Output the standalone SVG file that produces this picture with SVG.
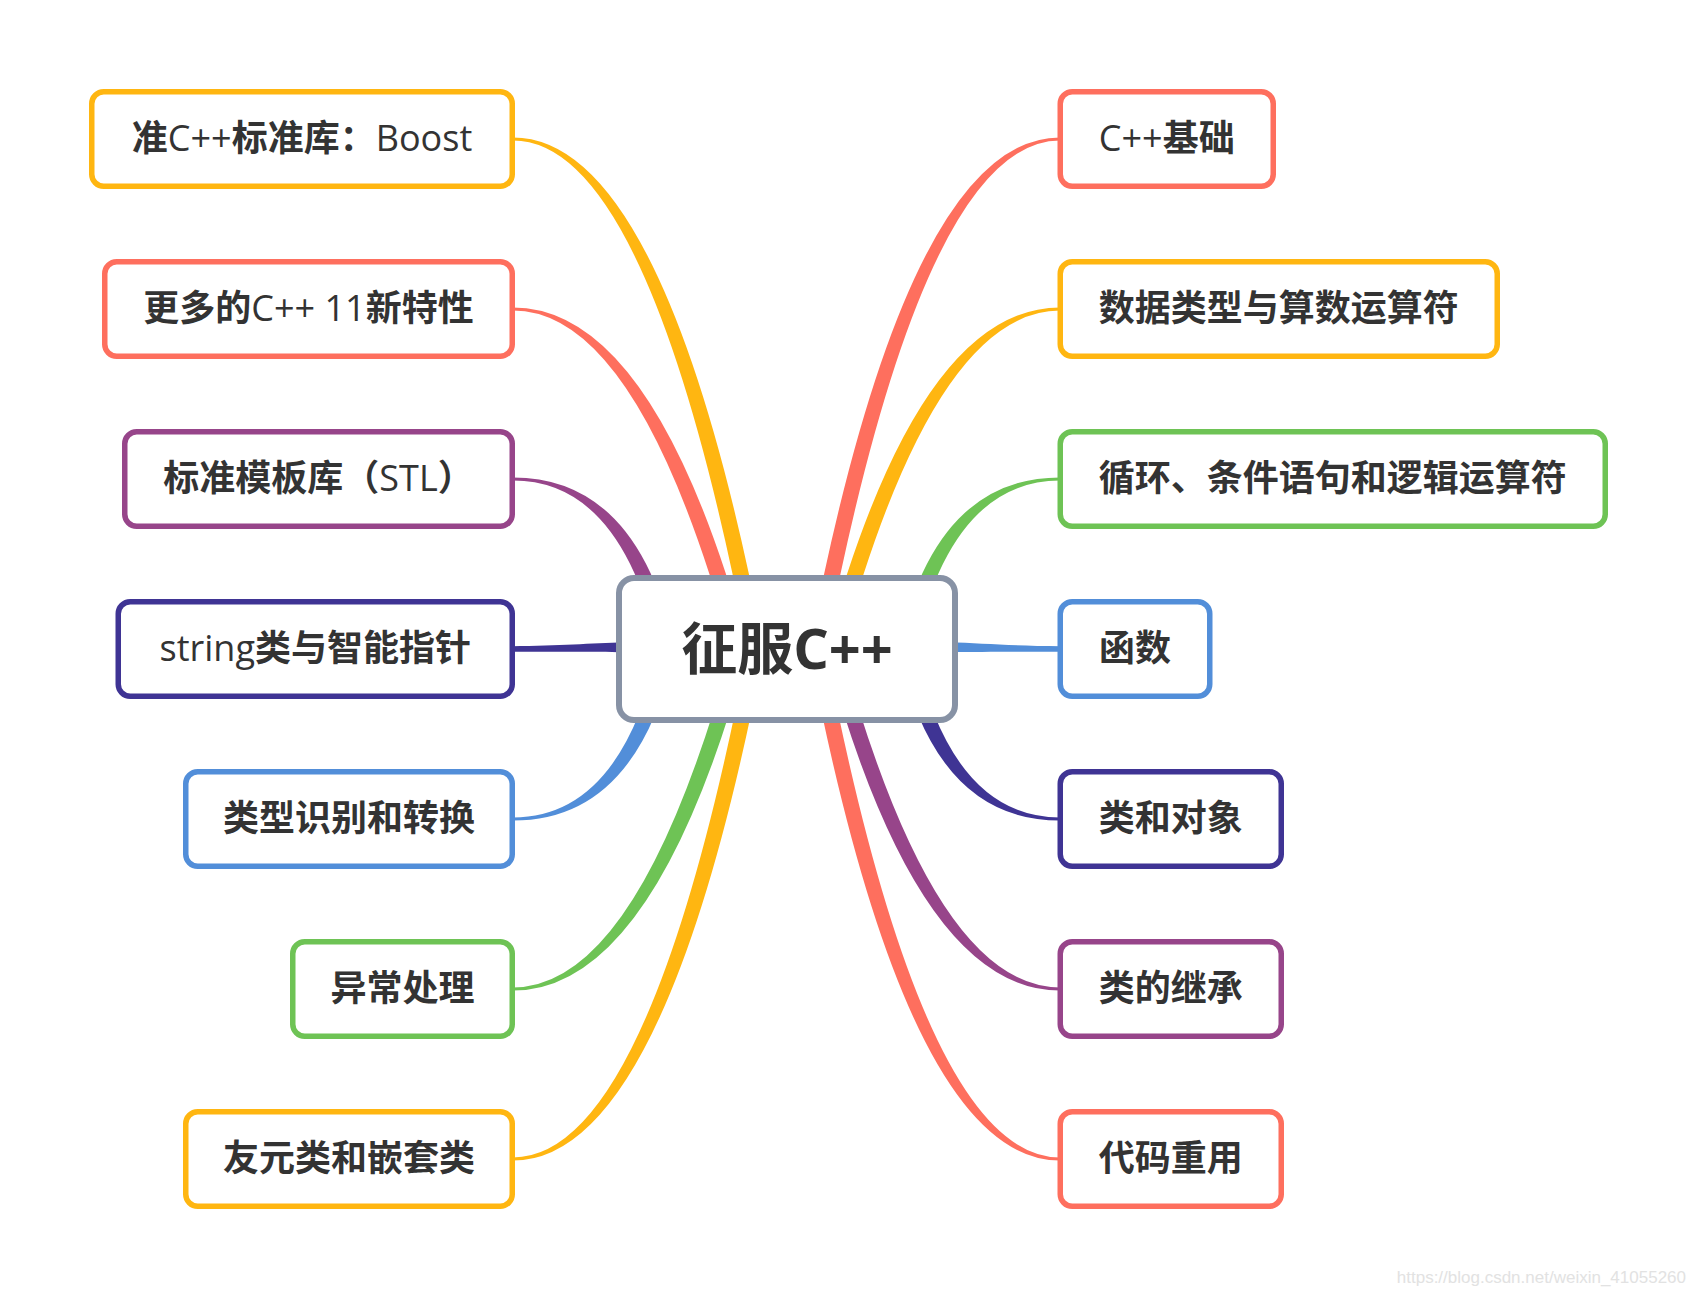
<svg xmlns="http://www.w3.org/2000/svg" width="1695" height="1295" viewBox="0 0 1695 1295">
<style>
.box{fill:#ffffff;stroke-width:5.5}
.t{font-family:"Noto Sans CJK SC","Noto Sans",sans-serif;font-weight:700;font-size:36px;fill:#333333;text-anchor:middle}
.lat{font-family:"Open Sans","Noto Sans",sans-serif;font-weight:500}
.yel{stroke:#FFB611}.red{stroke:#FE6F5E}.pur{stroke:#97458A}.ind{stroke:#3F3494}.blu{stroke:#528ED9}.grn{stroke:#6EC355}
.fy{fill:#FFB611}.fr{fill:#FE6F5E}.fp{fill:#97458A}.fi{fill:#3F3494}.fb{fill:#528ED9}.fg{fill:#6EC355}
</style>
<rect x="0" y="0" width="1695" height="1295" fill="#ffffff"/>
<g id="connectors">
  <!-- top-left -->
  <path class="fy" d="M513,137.4 Q665.8,137.4 763.9,647.5 L748.1,650.5 Q650.1,140.6 513,140.6 Z"/>
  <path class="fr" d="M513,307.4 Q654.9,307.4 747.7,646.9 L732.3,651.1 Q639.2,310.6 513,310.6 Z"/>
  <path class="fp" d="M513,477.4 Q636.9,477.4 674.8,647.3 L659.2,650.7 Q621.2,480.6 513,480.6 Z"/>
  <path class="fi" d="M512,646.2 C560,646 590,643.3 625,642.3 L625,652.3 C590,651.8 560,651.8 512,651.8 Z"/>
  <!-- bottom-left -->
  <g transform="matrix(1 0 0 -1 0 1298)">
    <path class="fb" d="M513,477.4 Q636.9,477.4 674.8,647.3 L659.2,650.7 Q621.2,480.6 513,480.6 Z"/>
    <path class="fg" d="M513,307.4 Q654.9,307.4 747.7,646.9 L732.3,651.1 Q639.2,310.6 513,310.6 Z"/>
    <path class="fy" d="M513,137.4 Q665.8,137.4 763.9,647.5 L748.1,650.5 Q650.1,140.6 513,140.6 Z"/>
  </g>
  <!-- top-right -->
  <g transform="matrix(-1 0 0 1 1573 0)">
    <path class="fr" d="M513,137.4 Q665.8,137.4 763.9,647.5 L748.1,650.5 Q650.1,140.6 513,140.6 Z"/>
    <path class="fy" d="M513,307.4 Q654.9,307.4 747.7,646.9 L732.3,651.1 Q639.2,310.6 513,310.6 Z"/>
    <path class="fg" d="M513,477.4 Q636.9,477.4 674.8,647.3 L659.2,650.7 Q621.2,480.6 513,480.6 Z"/>
    <path class="fb" d="M512,646.2 C560,646 590,643.3 625,642.3 L625,652.3 C590,651.8 560,651.8 512,651.8 Z"/>
  </g>
  <!-- bottom-right -->
  <g transform="matrix(-1 0 0 -1 1573 1298)">
    <path class="fi" d="M513,477.4 Q636.9,477.4 674.8,647.3 L659.2,650.7 Q621.2,480.6 513,480.6 Z"/>
    <path class="fp" d="M513,307.4 Q654.9,307.4 747.7,646.9 L732.3,651.1 Q639.2,310.6 513,310.6 Z"/>
    <path class="fr" d="M513,137.4 Q665.8,137.4 763.9,647.5 L748.1,650.5 Q650.1,140.6 513,140.6 Z"/>
  </g>
</g>

<g id="center">
  <rect x="619" y="578" width="336" height="142" rx="15" fill="#ffffff" stroke="#8792A5" stroke-width="6"/>
  <text x="787" y="669" class="t" style="font-size:56px">征服<tspan style="font-family:'Open Sans','Noto Sans',sans-serif;font-weight:700">C++</tspan></text>
</g>

<g id="n-boost">
  <rect class="box yel" x="91.75" y="91.75" width="420.5" height="94.5" rx="12"/>
  <text class="t" x="302" y="151">准<tspan class="lat">C++</tspan>标准库：<tspan class="lat">Boost</tspan></text>
</g>
<g id="n-cpp11">
  <rect class="box red" x="104.75" y="261.75" width="407.5" height="94.5" rx="12"/>
  <text class="t" x="308.5" y="321">更多的<tspan class="lat">C++ 11</tspan>新特性</text>
</g>
<g id="n-stl">
  <rect class="box pur" x="124.75" y="431.75" width="387.5" height="94.5" rx="12"/>
  <text class="t" x="318.5" y="491">标准模板库（<tspan class="lat">STL</tspan>）</text>
</g>
<g id="n-string">
  <rect class="box ind" x="118.25" y="601.75" width="394" height="94.5" rx="12"/>
  <text class="t" x="315.25" y="661"><tspan class="lat">string</tspan>类与智能指针</text>
</g>
<g id="n-rtti">
  <rect class="box blu" x="185.75" y="771.75" width="326.5" height="94.5" rx="12"/>
  <text class="t" x="349" y="831">类型识别和转换</text>
</g>
<g id="n-except">
  <rect class="box grn" x="292.75" y="941.75" width="219.5" height="94.5" rx="12"/>
  <text class="t" x="402.5" y="1001">异常处理</text>
</g>
<g id="n-friend">
  <rect class="box yel" x="185.75" y="1111.75" width="326.5" height="94.5" rx="12"/>
  <text class="t" x="349" y="1171">友元类和嵌套类</text>
</g>

<g id="n-basic">
  <rect class="box red" x="1060.25" y="91.75" width="213" height="94.5" rx="12"/>
  <text class="t" x="1166.75" y="151"><tspan class="lat">C++</tspan>基础</text>
</g>
<g id="n-types">
  <rect class="box yel" x="1060.25" y="261.75" width="437" height="94.5" rx="12"/>
  <text class="t" x="1278.75" y="321">数据类型与算数运算符</text>
</g>
<g id="n-loops">
  <rect class="box grn" x="1060.25" y="431.75" width="545" height="94.5" rx="12"/>
  <text class="t" x="1332.75" y="491">循环、条件语句和逻辑运算符</text>
</g>
<g id="n-func">
  <rect class="box blu" x="1060.25" y="601.75" width="149.5" height="94.5" rx="12"/>
  <text class="t" x="1135" y="661">函数</text>
</g>
<g id="n-class">
  <rect class="box ind" x="1060.25" y="771.75" width="221" height="94.5" rx="12"/>
  <text class="t" x="1170.75" y="831">类和对象</text>
</g>
<g id="n-inherit">
  <rect class="box pur" x="1060.25" y="941.75" width="221" height="94.5" rx="12"/>
  <text class="t" x="1170.75" y="1001">类的继承</text>
</g>
<g id="n-reuse">
  <rect class="box red" x="1060.25" y="1111.75" width="221" height="94.5" rx="12"/>
  <text class="t" x="1170.75" y="1171">代码重用</text>
</g>

<text x="1686" y="1283" text-anchor="end" style="font-family:'Liberation Sans',sans-serif;font-size:17px;fill:#E2E2E2">https://blog.csdn.net/weixin_41055260</text>
</svg>
